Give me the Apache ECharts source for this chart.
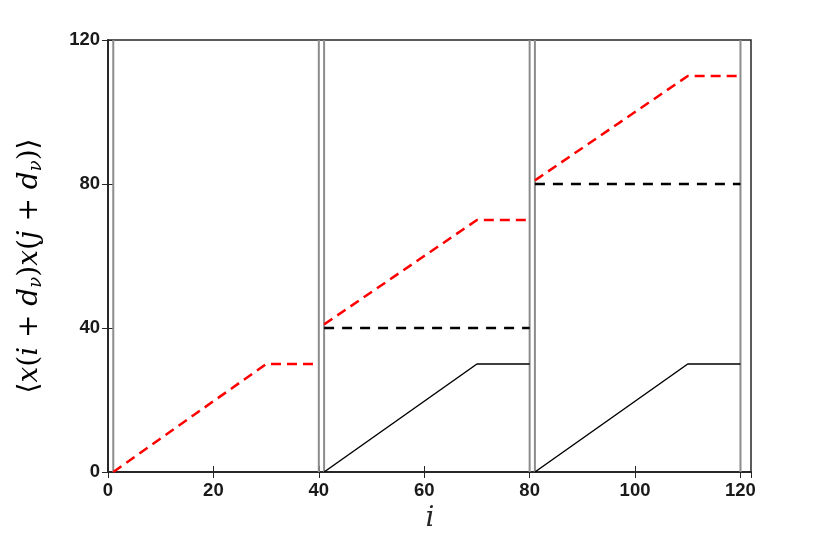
<!DOCTYPE html>
<html>
<head>
<meta charset="utf-8">
<script src="https://cdn.jsdelivr.net/npm/echarts@6/dist/echarts.min.js"></script>
<style>html,body{margin:0;padding:0;background:#fff;}#c{width:830px;height:538px;}</style>
</head>
<body>
<div id="c"></div>
<script>
// Data
const xTickValues = [0, 20, 40, 60, 80, 100, 120];
const yTickValues = [0, 40, 80, 120];
const separators = [1, 40, 41, 80, 81, 120];
const redDashed = [
  [[1, 0], [30, 30], [40, 30]],
  [[41, 41], [70, 70], [80, 70]],
  [[81, 81], [110, 110], [120, 110]]
];
const blackDashed = [
  [[41, 40], [80, 40]],
  [[81, 80], [120, 80]]
];
const blackSolid = [
  [[41, 0], [70, 30], [80, 30]],
  [[81, 0], [110, 30], [120, 30]]
];

const chart = echarts.init(document.getElementById('c'), null, {renderer: 'canvas'});
const series = [];
separators.forEach(x => series.push({
  type: 'line', data: [[x, 0], [x, 120]], showSymbol: false, silent: true,
  lineStyle: {color: '#8c8c8c', width: 2}, z: 1
}));
blackSolid.forEach(d => series.push({
  type: 'line', data: d, showSymbol: false, lineStyle: {color: '#000', width: 1.5}, z: 3
}));
blackDashed.forEach(d => series.push({
  type: 'line', data: d, showSymbol: false, lineStyle: {color: '#000', width: 2.5, type: [10, 8]}, z: 3
}));
redDashed.forEach(d => series.push({
  type: 'line', data: d, showSymbol: false, lineStyle: {color: '#ff0000', width: 2.5, type: [10, 6]}, z: 4
}));

const labelStyle = {fontFamily: 'Liberation Sans', fontWeight: 'bold', fontSize: 18.5, color: '#1a1a1a'};
chart.setOption({
  animation: false,
  grid: {left: 108, right: 79, top: 40, bottom: 66, show: true, borderColor: '#262626', borderWidth: 1.5},
  xAxis: [{
    type: 'value', min: 0, max: 122, interval: 20,
    axisLine: {show: true, lineStyle: {color: '#262626', width: 1.5}},
    axisTick: {show: true, inside: true, length: 6, lineStyle: {color: '#262626'}},
    splitLine: {show: false},
    axisLabel: Object.assign({margin: 9, showMaxLabel: false,
      formatter: v => xTickValues.indexOf(v) >= 0 ? String(v) : ''}, labelStyle)
  }, {
    type: 'value', position: 'top', min: 0, max: 122, interval: 20,
    axisLine: {show: true, lineStyle: {color: '#262626', width: 1.5}},
    axisTick: {show: true, inside: true, length: 6, lineStyle: {color: '#262626'}},
    axisLabel: {show: false}, splitLine: {show: false}
  }],
  yAxis: [{
    type: 'value', min: 0, max: 120, interval: 40,
    axisLine: {show: true, lineStyle: {color: '#262626', width: 1.5}},
    axisTick: {show: true, inside: true, length: 6, lineStyle: {color: '#262626'}},
    splitLine: {show: false},
    axisLabel: Object.assign({margin: 8, formatter: v => yTickValues.indexOf(v) >= 0 ? String(v) : ''}, labelStyle)
  }, {
    type: 'value', position: 'right', min: 0, max: 120, interval: 40,
    axisLine: {show: true, lineStyle: {color: '#262626', width: 1.5}},
    axisTick: {show: true, inside: true, length: 6, lineStyle: {color: '#262626'}},
    axisLabel: {show: false}, splitLine: {show: false}
  }],
  series: series,
  graphic: [{
    type: 'text', x: 30, y: 266, rotation: Math.PI / 2,
    style: {
      text: '{u|⟨}{i|x}{u|(}{i|i}{u| + }{i|d}{s|ν}{u|)}{i|x}{u|(}{i|j}{u| + }{i|d}{s|ν}{u|)⟩}',
      align: 'center', verticalAlign: 'middle',
      rich: {
        u: {fontFamily: 'DejaVu Serif', fontSize: 28, color: '#262626'},
        i: {fontFamily: 'DejaVu Serif', fontStyle: 'italic', fontSize: 28, color: '#262626'},
        s: {fontFamily: 'DejaVu Serif', fontStyle: 'italic', fontSize: 18, color: '#262626', padding: [12, 0, 0, 0]}
      }
    }
  }, {
    type: 'text', x: 430, y: 519,
    style: {text: 'i', align: 'center', verticalAlign: 'middle',
      font: 'italic 28px "DejaVu Serif"', fill: '#262626'}
  }]
});
</script>
</body>
</html>
